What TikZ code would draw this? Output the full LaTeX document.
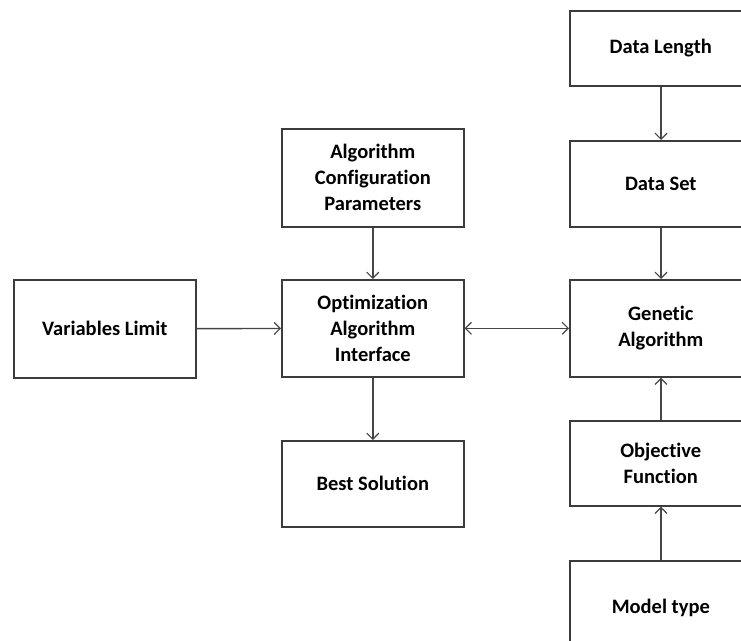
\documentclass[tikz,border=0pt]{standalone}
\usepackage{fontspec}
\setmainfont{Carlito}[Ligatures=NoCommon]
\usetikzlibrary{arrows.meta, positioning}
\definecolor{boxline}{RGB}{60,60,60}
\definecolor{arrline}{RGB}{70,70,70}
\tikzset{
  box/.style={rectangle, draw=boxline, line width=1.6pt, fill=white,
    anchor=north west, minimum width=182pt, align=center,
    font=\fontsize{20.5}{26}\selectfont\bfseries, inner sep=0pt},
  arrow/.style={-{Straight Barb[length=6pt, width=12pt, line width=1.2pt]},
    line width=1.4pt, color=arrline},
  biarrow/.style={{Straight Barb[length=6pt, width=12pt, line width=1.2pt]}-{Straight Barb[length=6pt, width=12pt, line width=1.2pt]},
    line width=1.4pt, color=arrline}
}

\begin{document}
\begin{tikzpicture}[x=1pt, y=-1pt]
  \useasboundingbox (0,0) rectangle (741,640);
  \clip (0,0) rectangle (741,640);
  % left and middle column
  \node[box, minimum height=98pt] (limit) at (13,279) {Variables Limit};
  \node[box, minimum height=98pt] (config) at (281,128) {Algorithm\\Configuration\\Parameters};
  \node[box, minimum height=97pt] (iface) at (281,279) {Optimization\\Algorithm\\Interface};
  \node[box, minimum height=86pt] (best) at (281,440) {Best Solution};
  % right column
  \node[box, minimum height=75pt] (length) at (569,10) {Data Length};
  \node[box, minimum height=86pt] (dataset) at (569,140) {Data Set};
  \node[box, minimum height=97pt] (ga) at (569,279) {Genetic\\Algorithm};
  \node[box, minimum height=85pt] (objective) at (569,420) {Objective\\Function};
  \node[box, minimum height=95pt] (model) at (569,560) {Model type};
  % connectors
  \draw[arrow] (limit) -- (iface);
  \draw[arrow] (config) -- (iface);
  \draw[arrow] (iface) -- (best);
  \draw[biarrow] (iface) -- (ga);
  \draw[arrow] (length.south -| 661,0) -- (dataset.north -| 661,0);
  \draw[arrow] (dataset.south -| 661,0) -- (ga.north -| 661,0);
  \draw[arrow] (objective.north -| 661,0) -- (ga.south -| 661,0);
  \draw[arrow] (model.north -| 661,0) -- (objective.south -| 661,0);
\end{tikzpicture}
\end{document}
